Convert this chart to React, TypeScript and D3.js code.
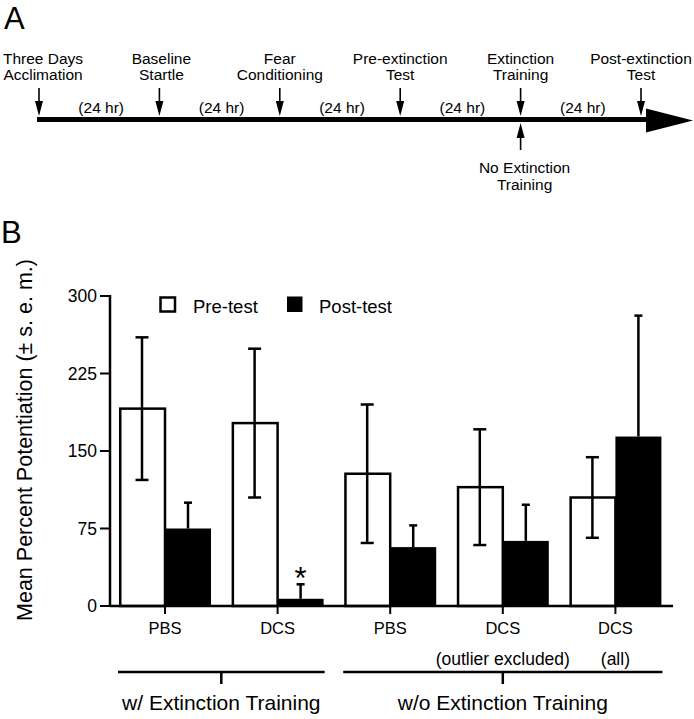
import React from "react";
import * as d3 from "d3";

// ---------- Data ----------
const timelineTop1 = ["Three Days", "Baseline", "Fear", "Pre-extinction", "Extinction", "Post-extinction"];
const timelineTop2 = ["Acclimation", "Startle", "Conditioning", "Test", "Training", "Test"];
const intervalLabel = "(24 hr)";
const groups = ["PBS", "DCS", "PBS", "DCS", "DCS"];
const subLabels = ["", "", "", "(outlier excluded)", "(all)"];
const preTest = [191, 177, 128, 115, 105];
const preErr = [69, 72, 67, 56, 39];
const postTest = [75, 7, 57, 63, 164];
const postErr = [25, 14, 21, 35, 117];
const yTicks = [0, 75, 150, 225, 300];
const brackets = [
  { label: "w/ Extinction Training", from: 0, to: 1 },
  { label: "w/o Extinction Training", from: 2, to: 4 },
];

const FONT = "'Liberation Sans', Arial, Helvetica, sans-serif";

export default function App() {
  // Timeline scale
  const tx = d3.scaleLinear().domain([0, 5]).range([39, 641]);
  const lineY = 119.5;

  // Chart scales
  const y = d3.scaleLinear().domain([0, 300]).range([606, 296]);
  const xg = d3.scaleBand<number>().domain(d3.range(groups.length)).range([108.7, 671.7]);
  const cx = (i: number) => (xg(i) as number) + xg.bandwidth() / 2;
  const barW = 46;
  const axisX = 110;
  const baseY = y(0);

  return (
    <svg
      width={694}
      height={719}
      style={{ position: "absolute", left: 0, top: 0, background: "#fff" }}
      fontFamily={FONT}
    >
      <rect x={0} y={0} width={694} height={719} fill="#fff" />
      {/* Panel A */}
      <text x={4} y={29} fontSize={31}>A</text>
      <line x1={37} x2={650} y1={lineY} y2={lineY} stroke="#000" strokeWidth={5} />
      <polygon points={`646,108.5 693,120.5 646,132.5`} fill="#000" />
      {timelineTop1.map((t, i) => {
        const x = tx(i);
        const lx = i === 0 ? x + 4 : i === 1 ? x + 2 : x;
        return (
          <g key={"ev" + i}>
            <text x={lx} y={64} fontSize={15.5} textAnchor="middle">{t}</text>
            <text x={lx} y={80} fontSize={15.5} textAnchor="middle">{timelineTop2[i]}</text>
            <line x1={x} x2={x} y1={88} y2={104} stroke="#000" strokeWidth={1.6} />
            <polygon points={`${x - 4},101 ${x + 4},101 ${x},116`} fill="#000" />
          </g>
        );
      })}
      {d3.range(5).map((i) => (
        <text key={"iv" + i} x={(tx(i) + tx(i + 1)) / 2 + 2} y={113} fontSize={15.5} textAnchor="middle">
          {intervalLabel}
        </text>
      ))}
      {/* No extinction training up arrow */}
      <line x1={tx(4)} x2={tx(4)} y1={134} y2={150} stroke="#000" strokeWidth={1.6} />
      <polygon points={`${tx(4) - 4},138 ${tx(4) + 4},138 ${tx(4)},123`} fill="#000" />
      <text x={tx(4) + 4} y={173} fontSize={15.5} textAnchor="middle">No Extinction</text>
      <text x={tx(4) + 4} y={190} fontSize={15.5} textAnchor="middle">Training</text>

      {/* Panel B */}
      <text x={1} y={243} fontSize={31}>B</text>
      <text
        transform={`translate(32,440) rotate(-90)`}
        fontSize={21.5}
        textAnchor="middle"
      >
        Mean Percent Potentiation (± s. e. m.)
      </text>

      {/* Legend */}
      <rect x={160.5} y={297.5} width={14.5} height={14} fill="#fff" stroke="#000" strokeWidth={2.5} />
      <text x={193} y={313} fontSize={18.5}>Pre-test</text>
      <rect x={287} y={296.5} width={15.5} height={15.5} fill="#000" />
      <text x={319} y={313} fontSize={18.5}>Post-test</text>

      {/* Bars */}
      {groups.map((g, i) => {
        const c = cx(i);
        const preX = c - barW;
        const postX = c;
        const pcx = preX + barW / 2;
        const qcx = postX + barW / 2;
        return (
          <g key={"bar" + i}>
            <rect
              x={preX + 1.25}
              y={y(preTest[i])}
              width={barW - 1.25}
              height={baseY - y(preTest[i])}
              fill="#fff"
              stroke="#000"
              strokeWidth={2.5}
            />
            <line x1={pcx} x2={pcx} y1={y(preTest[i] + preErr[i])} y2={y(preTest[i] - preErr[i])} stroke="#000" strokeWidth={2.5} />
            <line x1={pcx - 6.5} x2={pcx + 6.5} y1={y(preTest[i] + preErr[i])} y2={y(preTest[i] + preErr[i])} stroke="#000" strokeWidth={2.5} />
            <line x1={pcx - 6.5} x2={pcx + 6.5} y1={y(preTest[i] - preErr[i])} y2={y(preTest[i] - preErr[i])} stroke="#000" strokeWidth={2.5} />
            <rect x={postX} y={y(postTest[i])} width={barW} height={baseY - y(postTest[i])} fill="#000" />
            <line x1={qcx} x2={qcx} y1={y(postTest[i] + postErr[i])} y2={y(postTest[i])} stroke="#000" strokeWidth={2.5} />
            <line x1={qcx - 4} x2={qcx + 4} y1={y(postTest[i] + postErr[i])} y2={y(postTest[i] + postErr[i])} stroke="#000" strokeWidth={2.5} />
          </g>
        );
      })}
      {/* significance */}
      <text x={cx(1) + barW / 2} y={589} fontSize={31} textAnchor="middle">*</text>

      {/* Axes */}
      <line x1={axisX} x2={axisX} y1={y(300) - 1} y2={baseY + 1} stroke="#000" strokeWidth={2.5} />
      <line x1={axisX} x2={673} y1={baseY} y2={baseY} stroke="#000" strokeWidth={2.5} />
      {yTicks.map((t) => (
        <g key={"yt" + t}>
          <line x1={100} x2={axisX} y1={y(t)} y2={y(t)} stroke="#000" strokeWidth={2} />
          <text x={97} y={y(t)} dy="0.36em" fontSize={17.5} textAnchor="end">{t}</text>
        </g>
      ))}
      {groups.map((g, i) => (
        <g key={"xt" + i}>
          <line x1={cx(i)} x2={cx(i)} y1={baseY} y2={614} stroke="#000" strokeWidth={2} />
          <text x={cx(i)} y={634} fontSize={16.5} textAnchor="middle">{g}</text>
          {subLabels[i] && (
            <text x={cx(i)} y={665} fontSize={17.5} textAnchor="middle">{subLabels[i]}</text>
          )}
        </g>
      ))}

      {/* Brackets */}
      {brackets.map((b, k) => {
        const x1 = cx(b.from) - 47;
        const x2 = cx(b.to) + 47;
        const mid = (cx(b.from) + cx(b.to)) / 2;
        return (
          <g key={"br" + k}>
            <line x1={x1} x2={x2} y1={672} y2={672} stroke="#000" strokeWidth={2.5} />
            <line x1={mid} x2={mid} y1={672} y2={684} stroke="#000" strokeWidth={2.5} />
            <text x={mid} y={710} fontSize={21} textAnchor="middle">{b.label}</text>
          </g>
        );
      })}
    </svg>
  );
}
